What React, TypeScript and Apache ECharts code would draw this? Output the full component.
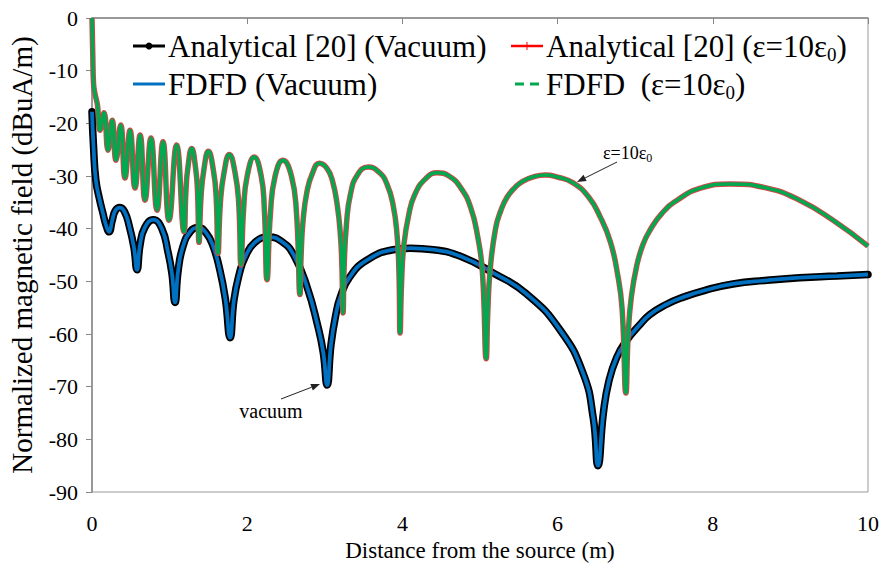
import React, { useEffect, useRef } from 'react';
import * as echarts from 'echarts';

// Vacuum case (Analytical [20] and FDFD overlap)
const vacX = [0, 0.02, 0.05, 0.1, 0.14, 0.18, 0.22, 0.26, 0.3, 0.36, 0.42, 0.48, 0.54, 0.58, 0.62, 0.68, 0.79, 0.9, 0.98, 1.03, 1.07, 1.11, 1.17, 1.27, 1.37, 1.47, 1.56, 1.65, 1.72, 1.78, 1.83, 1.9, 1.97, 2.1, 2.28, 2.45, 2.6, 2.77, 2.91, 2.98, 3.03, 3.08, 3.14, 3.2, 3.32, 3.54, 3.88, 4.1, 4.4, 4.74, 5.17, 5.6, 6.03, 6.33, 6.46, 6.52, 6.59, 6.66, 6.76, 6.89, 7.05, 7.19, 7.4, 7.62, 7.9, 8.26, 8.7, 9.12, 9.6, 10];
const vacY = [-17.8, -24.5, -30.8, -34.6, -37, -39.3, -40.6, -38.5, -36.6, -36.0, -36.8, -39.5, -43.5, -47.8, -43, -39.8, -38.3, -40, -44.5, -48.5, -54.0, -48, -43.5, -40.5, -39.8, -40.8, -43.3, -48, -53.5, -60.7, -53.5, -48.5, -45.5, -42.6, -41.6, -42.5, -45, -51, -58.5, -63.5, -69.7, -62, -56.5, -53, -49.2, -46, -44, -43.7, -44, -45.2, -48.4, -52.4, -59.2, -67.5, -76, -85, -75, -69, -64.5, -61.2, -58.4, -56.3, -54.4, -53, -51.7, -50.5, -49.8, -49.3, -49, -48.7];

// Dielectric case eps = 10 eps0 (Analytical [20] and FDFD overlap)
const dielX = [0, 0.01, 0.02, 0.04, 0.07, 0.103, 0.155, 0.206, 0.26, 0.309, 0.37, 0.425, 0.49, 0.554, 0.62, 0.683, 0.76, 0.838, 0.915, 0.992, 1.09, 1.186, 1.21, 1.235, 1.285, 1.335, 1.36, 1.379, 1.405, 1.44, 1.5, 1.565, 1.6, 1.624, 1.655, 1.7, 1.77, 1.845, 1.89, 1.92, 1.955, 2.0, 2.09, 2.18, 2.22, 2.255, 2.3, 2.36, 2.46, 2.57, 2.635, 2.68, 2.695, 2.72, 2.77, 2.84, 2.93, 3.03, 3.1, 3.16, 3.2, 3.22, 3.235, 3.25, 3.28, 3.33, 3.42, 3.56, 3.7, 3.8, 3.88, 3.93, 3.955, 3.97, 3.99, 4.02, 4.08, 4.16, 4.3, 4.45, 4.6, 4.75, 4.88, 4.97, 5.03, 5.08, 5.1, 5.13, 5.2, 5.27, 5.35, 5.45, 5.55, 5.7, 5.84, 6.0, 6.2, 6.4, 6.55, 6.68, 6.77, 6.83, 6.88, 6.91, 6.95, 7.02, 7.1, 7.19, 7.35, 7.54, 7.84, 8.22, 8.7, 9.12, 9.55, 10];
const dielY = [0, -7, -12.5, -14.5, -16.5, -21.3, -18.0, -25.1, -19.4, -27.0, -20.3, -30.4, -21.3, -32.3, -22.2, -34.6, -22.8, -36.5, -23.5, -38.4, -24.1, -40.6, -33, -28.5, -24.8, -28.5, -33, -42.6, -34, -29, -25.3, -29, -34, -44.7, -35, -29.5, -25.9, -29.5, -35, -46.9, -36, -30, -26.4, -30, -36, -49.7, -37, -30, -27.0, -30, -37, -52.5, -45, -38.5, -33, -29.5, -27.6, -28.6, -31, -35.5, -41, -47, -56.0, -47, -39, -33.5, -29.8, -28.3, -29.3, -31.5, -35.5, -41, -48, -59.8, -50, -43, -37.5, -33.5, -30.5, -29.4, -30, -32.2, -36, -41.5, -48, -64.7, -56, -48, -40, -36.5, -34, -32.2, -31, -30.1, -29.8, -30.2, -31.3, -34, -37.8, -42.5, -48.4, -55, -71.2, -60, -53, -47, -43, -40.3, -37, -34.6, -32.3, -31.5, -32.3, -34.6, -38.4, -43.3];

const xMin = 0, xMax = 10, xStep = 2;
const yMin = -90, yMax = 0, yStep = 10;

const FONT = 'Liberation Serif';

function pairs(xs: number[], ys: number[]) {
  return xs.map((x, i) => [x, ys[i]]);
}

function arrow(x1: number, y1: number, x2: number, y2: number) {
  const dx = x2 - x1, dy = y2 - y1;
  const L = Math.sqrt(dx * dx + dy * dy);
  const ux = dx / L, uy = dy / L;
  const hl = 9, hw = 3.5;
  const bx = x2 - ux * hl, by = y2 - uy * hl;
  return [
    { type: 'line', shape: { x1, y1, x2: bx, y2: by }, style: { stroke: '#222', lineWidth: 1 } },
    {
      type: 'polygon',
      shape: { points: [[x2, y2], [bx - uy * hw, by + ux * hw], [bx + uy * hw, by - ux * hw]] },
      style: { fill: '#222' },
    },
  ];
}

export default function App() {
  const ref = useRef<HTMLDivElement>(null);
  useEffect(() => {
    if (!ref.current) return;
    const chart = echarts.init(ref.current, null, { renderer: 'svg' });
    const vac = pairs(vacX, vacY);
    const diel = pairs(dielX, dielY);
    const legendFont = { fontFamily: FONT, fontSize: 31, fill: '#000' };
    const rich = {
      n: { fontFamily: FONT, fontSize: 31, lineHeight: 35, color: '#000' },
      s: { fontFamily: FONT, fontSize: 19, color: '#000', verticalAlign: 'bottom' },
    };
    const richSmall = {
      n: { fontFamily: FONT, fontSize: 18, lineHeight: 22, color: '#000' },
      s: { fontFamily: FONT, fontSize: 12, color: '#000', verticalAlign: 'bottom' },
    };
    chart.setOption({
      animation: false,
      backgroundColor: '#fff',
      textStyle: { fontFamily: FONT },
      grid: {
        left: 92, right: 14, top: 18, bottom: 71, show: true, borderColor: '#999', borderWidth: 1,
        containLabel: false, outerBoundsMode: 'none',
      },
      xAxis: {
        type: 'value', min: xMin, max: xMax, interval: xStep,
        name: 'Distance from the source (m)', nameLocation: 'middle', nameGap: 40,
        nameTextStyle: { fontFamily: FONT, fontSize: 23, color: '#000' },
        axisLine: { lineStyle: { color: '#888', width: 1.5 } },
        axisTick: { show: true, inside: false, length: 6, lineStyle: { color: '#888' } },
        axisLabel: { fontFamily: FONT, fontSize: 22, color: '#000', margin: 20 },
        splitLine: { show: false },
      },
      yAxis: {
        type: 'value', min: yMin, max: yMax, interval: yStep,
        name: 'Normalized magnetic field (dBuA/m)', nameLocation: 'middle', nameGap: 56,
        nameTextStyle: { fontFamily: FONT, fontSize: 29, color: '#000' },
        axisLine: { lineStyle: { color: '#888', width: 1.5 } },
        axisTick: { show: true, inside: false, length: 6, lineStyle: { color: '#888' } },
        axisLabel: { fontFamily: FONT, fontSize: 22, color: '#000', margin: 14 },
        splitLine: { show: false },
      },
      series: [
        {
          name: 'Analytical [20] (Vacuum)', type: 'line', data: vac, showSymbol: false, smooth: 0.5,
          lineStyle: { color: '#000', width: 7.5, cap: 'round' }, itemStyle: { color: '#000' }, z: 2,
        },
        {
          name: 'FDFD (Vacuum)', type: 'line', data: vac, showSymbol: false, smooth: 0.5,
          lineStyle: { color: '#0070c0', width: 3.8 }, itemStyle: { color: '#0070c0' }, z: 3,
        },
        {
          name: 'Analytical [20] (ε=10ε0)', type: 'line', data: diel, showSymbol: false, smooth: 0.5,
          lineStyle: { color: '#d04848', width: 5.5 }, itemStyle: { color: '#d04848' }, z: 4,
        },
        {
          name: 'FDFD (ε=10ε0)', type: 'line', data: diel, showSymbol: false, smooth: 0.5,
          lineStyle: { color: '#00a850', width: 3.5 }, itemStyle: { color: '#00a850' }, z: 5,
        },
      ],
      graphic: [
        // legend row 1
        { type: 'line', shape: { x1: 133, y1: 46, x2: 165, y2: 46 }, style: { stroke: '#000', lineWidth: 3 }, z: 10 },
        { type: 'circle', shape: { cx: 149, cy: 46, r: 3.5 }, style: { fill: '#000' }, z: 10 },
        { type: 'text', x: 168, y: 46, style: { ...legendFont, text: 'Analytical [20] (Vacuum)', align: 'left', verticalAlign: 'middle' }, z: 10 },
        { type: 'line', shape: { x1: 511, y1: 46, x2: 543, y2: 46 }, style: { stroke: '#ff0000', lineWidth: 2.5 }, z: 10 },
        { type: 'line', shape: { x1: 527, y1: 42, x2: 527, y2: 50 }, style: { stroke: '#ff0000', lineWidth: 1 }, z: 10 },
        {
          type: 'text', x: 546, y: 46, z: 10,
          style: { text: '{n|Analytical [20] (ε=10ε}{s|0}{n|)}', rich, align: 'left', verticalAlign: 'middle', fontFamily: FONT, fontSize: 31 },
        },
        // legend row 2
        { type: 'line', shape: { x1: 133, y1: 84, x2: 165, y2: 84 }, style: { stroke: '#0070c0', lineWidth: 3 }, z: 10 },
        { type: 'text', x: 168, y: 84, style: { ...legendFont, text: 'FDFD (Vacuum)', align: 'left', verticalAlign: 'middle' }, z: 10 },
        { type: 'line', shape: { x1: 515, y1: 84, x2: 543, y2: 84 }, style: { stroke: '#00a850', lineWidth: 3, lineDash: [9, 6] }, z: 10 },
        {
          type: 'text', x: 546, y: 84, z: 10,
          style: { text: '{n|FDFD  (ε=10ε}{s|0}{n|)}', rich, align: 'left', verticalAlign: 'middle', fontFamily: FONT, fontSize: 31 },
        },
        // annotations
        {
          type: 'text', x: 603, y: 153, z: 10,
          style: { text: '{n|ε=10ε}{s|0}', rich: richSmall, align: 'left', verticalAlign: 'middle', fontFamily: FONT, fontSize: 18 },
        },
        ...arrow(617, 162, 577, 182).map((e) => ({ ...e, z: 10 })),
        { type: 'text', x: 271, y: 411, z: 10, style: { text: 'vacuum', fontFamily: FONT, fontSize: 20, fill: '#000', align: 'center', verticalAlign: 'middle' } },
        ...arrow(281, 399, 320, 384).map((e) => ({ ...e, z: 10 })),
      ],
    });
    return () => chart.dispose();
  }, []);
  return <div ref={ref} style={{ position: 'fixed', left: 0, top: 0, width: 882, height: 563, background: '#fff' }} />;
}
